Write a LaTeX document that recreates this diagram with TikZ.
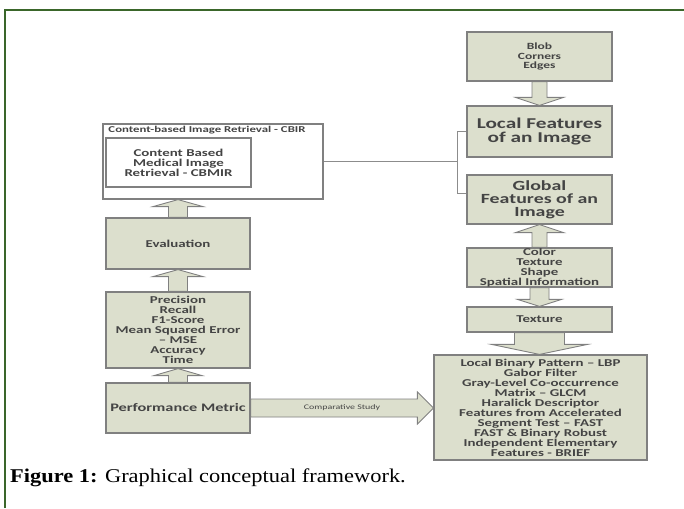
\documentclass[tikz,border=0pt]{standalone}
\usepackage{fontspec}
\setmainfont{Liberation Serif}
\newfontfamily\capfont{Liberation Serif}[FakeStretch=1.15]
\newfontfamily\calf{Carlito}[FakeStretch=1.42]
\usetikzlibrary{calc}
\definecolor{framegreen}{RGB}{58,102,42}
\definecolor{boxfill}{RGB}{220,223,205}
\definecolor{boxgray}{RGB}{128,128,128}
\definecolor{linegray}{RGB}{140,140,140}
\definecolor{txt}{RGB}{68,68,68}
\newcommand\fsz[2]{\fontsize{#1}{#2}\selectfont}
\newcommand\blockarrow[5]{%
  \coordinate (ba-a) at (#1);
  \coordinate (ba-b) at (#2);
  \coordinate (ba-h) at ($(ba-b)!#5!(ba-a)$);
  \draw[arr] ($(ba-a)!#3!90:(ba-b)$) -- ($(ba-h)!#3!-90:(ba-a)$) -- ($(ba-h)!#4!-90:(ba-a)$) -- (ba-b) -- ($(ba-h)!#4!90:(ba-a)$) -- ($(ba-h)!#3!90:(ba-a)$) -- ($(ba-a)!#3!-90:(ba-b)$) -- cycle;}
\tikzset{
  gbox/.style={draw=boxgray, fill=boxfill, line width=1.2pt, text=txt, align=center, inner sep=0pt, font=\calf\bfseries},
  wbox/.style={gbox, fill=white},
  arr/.style={draw=boxgray, fill=boxfill, line width=0.9pt, line join=miter},
  conn/.style={draw=linegray, line width=1.1pt}
}
\begin{document}
\begin{tikzpicture}[x=1pt,y=-1pt]
\useasboundingbox (0,0) rectangle (684,508);
\fill[white] (0,0) rectangle (684,508);
\draw[framegreen, line width=2.2pt] (5,508) -- (5,10) -- (684,10);

% left column
\node[wbox, minimum width=220pt, minimum height=75pt] (cbir) at (213,161.5) {};
\node[text=txt, font=\calf\bfseries\fsz{9}{10}, inner sep=0pt, anchor=north] (cbirtitle) at ($(cbir.north)+(-6,3)$) {Content-based Image Retrieval - CBIR};
\node[wbox, minimum width=145pt, minimum height=49pt, font=\calf\bfseries\fsz{10.5}{10}] (cbmir) at (178.5,162.5) {Content Based\\Medical Image\\Retrieval - CBMIR};
\node[gbox, minimum width=144pt, minimum height=51pt, font=\calf\bfseries\fsz{10.5}{10}] (eval) at (178,243.5) {Evaluation};
\node[gbox, minimum width=144pt, minimum height=76pt, font=\calf\bfseries\fsz{10.5}{10}] (prec) at (178,330) {Precision\\Recall\\F1-Score\\Mean Squared Error\\– MSE\\Accuracy\\Time};
\node[gbox, minimum width=144pt, minimum height=50pt, font=\calf\bfseries\fsz{11.5}{12}] (perf) at (178,408) {Performance Metric};

% right column
\node[gbox, minimum width=145pt, minimum height=49pt, font=\calf\bfseries\fsz{9.5}{9.5}] (blob) at (539.5,56.5) {Blob\\Corners\\Edges};
\node[gbox, minimum width=145pt, minimum height=51pt, font=\calf\bfseries\fsz{15}{14}] (local) at (539.5,131.5) {Local Features\\of an Image};
\node[gbox, minimum width=145pt, minimum height=49pt, font=\calf\bfseries\fsz{14}{13}] (global) at (539.5,199.5) {Global\\Features of an\\Image};
\node[gbox, minimum width=145pt, minimum height=39pt, font=\calf\bfseries\fsz{10.5}{10}] (color) at (539.5,267.5) {Color\\Texture\\Shape\\Spatial Information};
\node[gbox, minimum width=145pt, minimum height=25pt, font=\calf\bfseries\fsz{10.5}{10}] (texture) at (539.5,319.5) {Texture};
\node[gbox, minimum width=213pt, minimum height=105pt, font=\calf\bfseries\fsz{10.5}{10}] (big) at (540.5,407.5) {Local Binary Pattern – LBP\\Gabor Filter\\Gray-Level Co-occurrence\\Matrix – GLCM\\Haralick Descriptor\\Features from Accelerated\\Segment Test – FAST\\FAST \& Binary Robust\\Independent Elementary\\Features - BRIEF};

% block arrows
\blockarrow{eval.north}{eval.north |- cbir.south}{9.5pt}{25pt}{7pt}
\blockarrow{prec.north}{eval.south}{9.5pt}{25pt}{7pt}
\blockarrow{perf.north}{prec.south}{9.5pt}{24pt}{7pt}
\blockarrow{blob.south}{local.north}{7.5pt}{24pt}{8pt}
\blockarrow{color.north}{global.south}{7.5pt}{24pt}{8pt}
\blockarrow{color.south}{texture.north}{9.5pt}{22pt}{7pt}
\blockarrow{texture.south}{texture.south |- big.north}{25pt}{48pt}{10pt}
\blockarrow{perf.east}{perf.east -| big.west}{9pt}{16pt}{16pt}
\node[text=txt, font=\calf\fsz{7}{8}, inner sep=0pt] (cs) at ($(perf.east)!0.5!(perf.east -| big.west)$) {Comparative Study};

% bracket connector
\coordinate (brk) at ($(local.west)+(-9,0)$);
\draw[conn] (cbir.east) -- (cbir.east -| brk);
\draw[conn] (local.west) -- (brk) -- (brk |- {$(global.west)+(0,-6)$}) -- ($(global.west)+(0,-6)$);

% caption
\node[anchor=base west, inner sep=0pt, font=\capfont\fsz{19.5}{22}] (cap) at (10,482) {\textbf{Figure 1:} Graphical conceptual framework.};
\end{tikzpicture}
\end{document}
